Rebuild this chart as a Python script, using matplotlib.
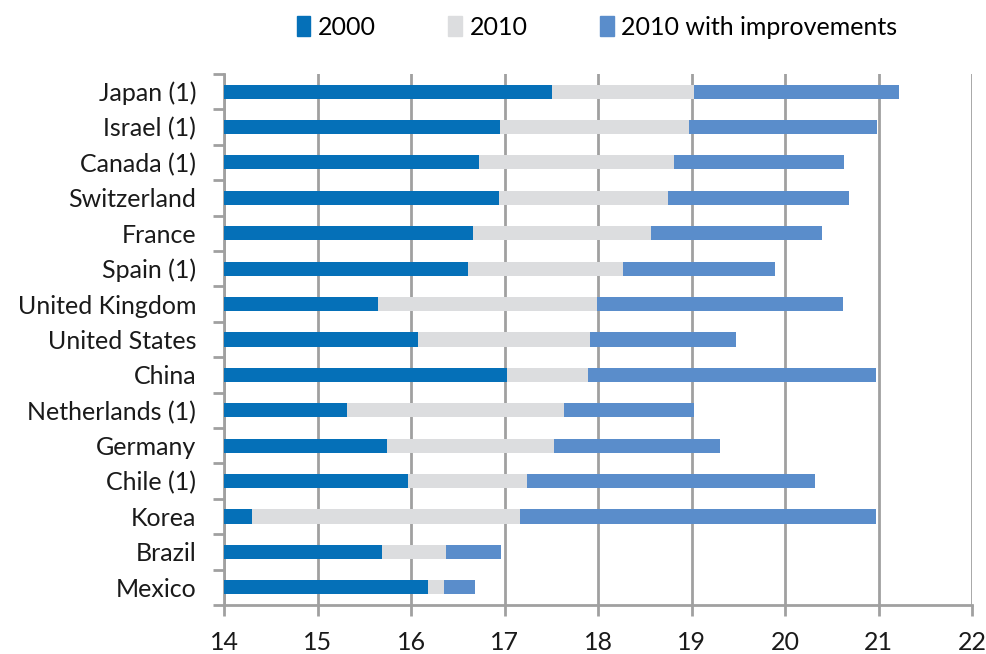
import numpy as np
import matplotlib.pyplot as plt
from matplotlib.patches import Patch

plt.rcParams['font.family'] = ['Lato', 'DejaVu Sans']

countries = ["Japan (1)", "Israel (1)", "Canada (1)", "Switzerland", "France",
             "Spain (1)", "United Kingdom", "United States", "China",
             "Netherlands (1)", "Germany", "Chile (1)", "Korea", "Brazil", "Mexico"]
y2000 = [17.51, 16.95, 16.73, 16.94, 16.66, 16.61, 15.65, 16.07, 17.03,
         15.31, 15.74, 15.97, 14.30, 15.69, 16.18]
y2010 = [19.02, 18.97, 18.81, 18.75, 18.57, 18.27, 17.99, 17.91, 17.89,
         17.64, 17.53, 17.24, 17.16, 16.37, 16.35]
y2010_improved = [21.22, 20.98, 20.63, 20.68, 20.39, 19.89, 20.62, 19.47, 20.97,
                  19.03, 19.30, 20.32, 20.97, 16.96, 16.68]

c2000 = '#0570b8'
c2010 = '#dcdddf'
cimp = '#5a8dcb'
grey = '#a0a0a0'

fig = plt.figure(figsize=(9.87, 6.54), dpi=100)
ax = fig.add_axes([0.227, 0.075, 0.758, 0.812])

pos = np.arange(len(countries))[::-1]
base = 14
h = 0.4
ax.barh(pos, np.array(y2010_improved) - base, left=base, height=h, color=cimp, zorder=2)
ax.barh(pos, np.array(y2010) - base, left=base, height=h, color=c2010, zorder=3)
ax.barh(pos, np.array(y2000) - base, left=base, height=h, color=c2000, zorder=4)

ax.set_xlim(14, 22)
ax.set_ylim(-0.5, len(countries) - 0.5)
ax.set_xticks(range(14, 23))
ax.set_yticks(pos)
ax.set_yticklabels(countries)
ax.set_yticks(np.arange(-0.5, len(countries)), minor=True)

ax.grid(axis='x', color=grey, linewidth=2, zorder=0)
for s in ['top', 'right']:
    ax.spines[s].set_visible(False)
for s in ['left', 'bottom']:
    ax.spines[s].set_color(grey)
    ax.spines[s].set_linewidth(2)
ax.tick_params(axis='x', colors=grey, length=8, width=2, labelcolor='#1a1a1a',
               labelsize=18, pad=11)
ax.tick_params(axis='y', which='major', length=0, labelcolor='#1a1a1a',
               labelsize=18, pad=20)
ax.tick_params(axis='y', which='minor', colors=grey, length=8, width=2)

handles = [Patch(color=c2000, label='2000'), Patch(color=c2010, label='2010'),
           Patch(color=cimp, label='2010 with improvements')]
fig.legend(handles=handles, loc='upper center', bbox_to_anchor=(0.605, 1.01), ncol=3,
           frameon=False, fontsize=18, handlelength=0.55, handleheight=0.85,
           handletextpad=0.3, columnspacing=2.9)

fig.savefig('out.png', dpi=100)
